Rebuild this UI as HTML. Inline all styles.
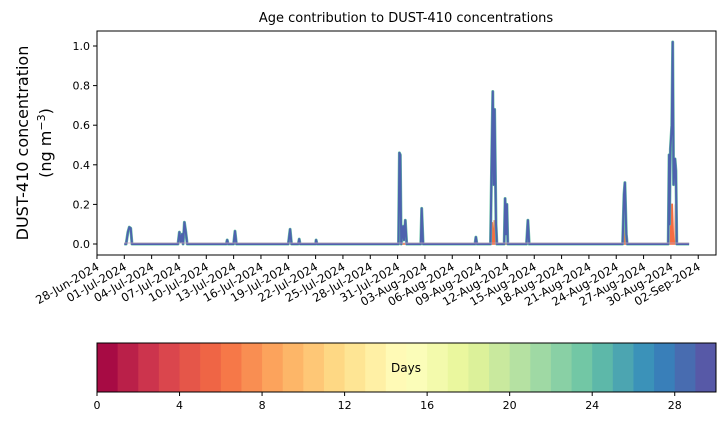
<!DOCTYPE html>
<html><head><meta charset="utf-8"><style>
body{margin:0;background:#fff;font-family:"Liberation Sans","DejaVu Sans",sans-serif}
svg text{font-family:"DejaVu Sans","Liberation Sans",sans-serif;fill:#000}
</style></head><body>
<svg id="c" width="726" height="425" viewBox="0 0 726 425" xmlns="http://www.w3.org/2000/svg">
<text x="406" y="22" font-size="13" text-anchor="middle">Age contribution to DUST-410 concentrations</text>
<g transform="translate(28,143) rotate(-90)">
<text x="0" y="0" font-size="16" text-anchor="middle">DUST-410 concentration</text>
<text x="0" y="23" font-size="16" text-anchor="middle">(ng m<tspan font-size="11" dy="-6">−3</tspan><tspan dy="6">)</tspan></text>
</g>
<g id="plot"></g>
<g id="cbar"></g>
</svg>
<script>
// data: days since 01-Jul-2024, concentration (ng m-3)
const days=[0,0.2,0.4,0.55,0.7,0.85,5.9,6.05,6.2,6.35,6.45,6.6,6.75,6.9,11.2,11.3,11.4,12.0,12.15,12.3,18.0,18.2,18.35,19.1,19.2,19.3,21.0,21.05,21.15,30.1,30.2,30.3,30.4,30.6,30.7,30.85,31.0,32.55,32.65,32.8,38.5,38.6,38.7,40.2,40.35,40.45,40.55,40.65,40.8,40.9,41.7,41.8,41.9,42.0,42.1,44.15,44.3,44.45,54.7,54.85,54.95,55.1,55.2,59.7,59.8,59.85,59.95,60.1,60.2,60.3,60.45,60.55,60.65,61.2,62.0];
const conc=[0,0,0.06,0.085,0.08,0,0,0.06,0.01,0.05,0,0.11,0.06,0,0,0.02,0,0,0.065,0,0,0.075,0,0,0.025,0,0,0.02,0,0,0.46,0.45,0,0.09,0.02,0.12,0,0,0.18,0,0,0.035,0,0,0.5,0.77,0.3,0.68,0.1,0,0,0.23,0.05,0.2,0,0,0.12,0,0,0.25,0.31,0.05,0,0,0.45,0.1,0.48,0.6,1.02,0.3,0.43,0.37,0,0,0];
// young-age contribution
const youngDays=[30.15,30.3,30.45,40.3,40.4,40.5,40.55,40.62,40.72,44.2,44.3,44.4,54.85,54.95,55.05,59.95,60.0,60.15,60.3,60.45,60.5,60.6];
const youngConc=[0,0.03,0,0,0.11,0,0,0.12,0,0,0.03,0,0,0.1,0,0,0.2,0.2,0,0,0.2,0];
const yTicks=[0,0.2,0.4,0.6,0.8,1.0];
const yTickLabels=["0.0","0.2","0.4","0.6","0.8","1.0"];
const xTickDays=[-3,0,3,6,9,12,15,18,21,24,27,30,33,36,39,42,45,48,51,54,57,60,63];
const xTickLabels=["28-Jun-2024","01-Jul-2024","04-Jul-2024","07-Jul-2024","10-Jul-2024","13-Jul-2024","16-Jul-2024","19-Jul-2024","22-Jul-2024","25-Jul-2024","28-Jul-2024","31-Jul-2024","03-Aug-2024","06-Aug-2024","09-Aug-2024","12-Aug-2024","15-Aug-2024","18-Aug-2024","21-Aug-2024","24-Aug-2024","27-Aug-2024","30-Aug-2024","02-Sep-2024"];
const cbTicks=[0,4,8,12,16,20,24,28];
const cbMax=30;

const NS="http://www.w3.org/2000/svg";
const L=97,R=716,T=31,B=255;
const xs=d=>124.3+d*9.11;
const ys=v=>244-v*198;
function mk(tag,attrs,parent){const e=document.createElementNS(NS,tag);for(const k in attrs)e.setAttribute(k,attrs[k]);parent.appendChild(e);return e;}
const plot=document.getElementById('plot');
// young series first (underneath)
let yp=youngDays.map((d,i)=>xs(d).toFixed(1)+','+ys(youngConc[i]).toFixed(1)).join(' ');
let yl=mk('polygon',{points:yp,fill:'#f46d43',stroke:'#f46d43','stroke-width':1.5},plot);


// main series
let pts=days.map((d,i)=>xs(d).toFixed(1)+','+ys(conc[i]).toFixed(1)).join(' ');
let gr=mk('polyline',{points:pts,fill:'none',stroke:'#66c2a5','stroke-width':3,'stroke-linejoin':'round'},plot);


let ln=mk('polyline',{points:pts,fill:'none',stroke:'#4e62ae','stroke-width':2,'stroke-linejoin':'round'},plot);


let bl=mk('line',{x1:xs(0),x2:xs(62),y1:ys(0)-1,y2:ys(0)-1,stroke:'#c9a0b8','stroke-width':0.8},plot);


// frame
let fr=mk('rect',{x:L,y:T,width:R-L,height:B-T,fill:'none',stroke:'#000','stroke-width':1},plot);


yTicks.forEach((v,i)=>{
 mk('line',{x1:L-4,x2:L,y1:ys(v),y2:ys(v),stroke:'#000'},plot);
 const t=mk('text',{x:L-7,y:ys(v)+4,'font-size':11,'text-anchor':'end'},plot);t.textContent=yTickLabels[i];
 
 
});
xTickDays.forEach((d,i)=>{
 const x=xs(d);
 mk('line',{x1:x,x2:x,y1:B,y2:B+4,stroke:'#000'},plot);
 const t=mk('text',{x:x+3,y:B+14,'font-size':11.5,'text-anchor':'end',transform:`rotate(-30 ${x+3} ${B+14})`},plot);
 t.textContent=xTickLabels[i];
 
 
});
// colorbar
const spec=['#9e0142','#d53e4f','#f46d43','#fdae61','#fee08b','#ffffbf','#e6f598','#abdda4','#66c2a5','#3288bd','#5e4fa2'];
function hex(h){return [1,3,5].map(i=>parseInt(h.substr(i,2),16));}
function cmap(t){const p=t*10,i=Math.min(9,Math.floor(p)),f=p-i,a=hex(spec[i]),b=hex(spec[i+1]);return 'rgb('+a.map((v,k)=>Math.round(v+(b[k]-v)*f)).join(',')+')';}
const cb=document.getElementById('cbar');
const cx=v=>97+v*(716-97)/cbMax, CT=343, CB=392;
for(let i=0;i<cbMax;i++){
 const r=mk('rect',{x:cx(i),y:CT,width:cx(i+1)-cx(i)+0.5,height:CB-CT,fill:cmap((i+0.5)/cbMax)},cb);
 
 
}
mk('rect',{x:97,y:CT,width:619,height:CB-CT,fill:'none',stroke:'#000'},cb);
const dl=mk('text',{x:406,y:372,'font-size':12,'text-anchor':'middle'},cb);dl.textContent='Days';


cbTicks.forEach(v=>{
 mk('line',{x1:cx(v),x2:cx(v),y1:CB,y2:CB+4,stroke:'#000'},cb);
 const t=mk('text',{x:cx(v),y:CB+17,'font-size':11,'text-anchor':'middle'},cb);t.textContent=v;
 
 
});
</script>
</body></html>
